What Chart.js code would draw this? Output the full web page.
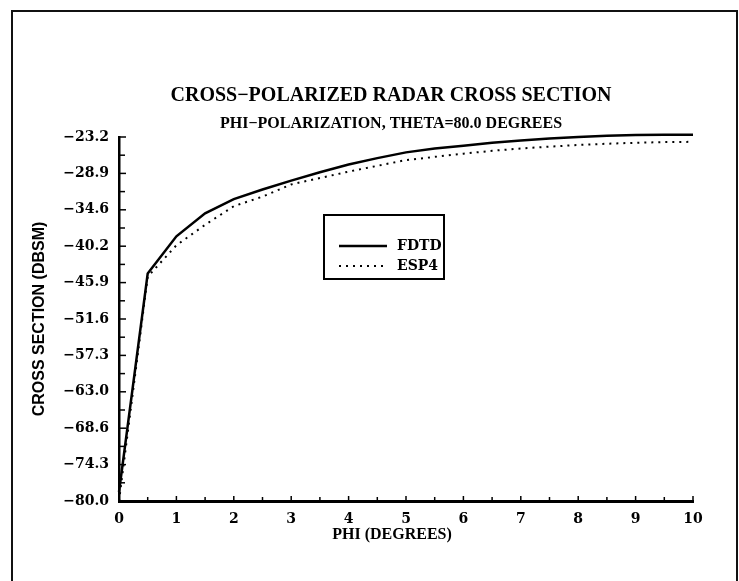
<!DOCTYPE html>
<html>
<head>
<meta charset="utf-8">
<script src="https://cdn.jsdelivr.net/npm/chart.js@4/dist/chart.umd.min.js"></script>
<style>
html, body { margin: 0; padding: 0; background: #fff; overflow: hidden; }
#frame { position: absolute; left: 11px; top: 10px; width: 727px; height: 640px; border: 2px solid #111; box-sizing: border-box; }
canvas { position: absolute; left: 0; top: 0; }
</style>
</head>
<body>
<div id="frame"></div>
<canvas id="rcs" width="739" height="581"></canvas>
<script>
// phi angle in degrees, one sample every half degree
const phi = [0, 0.5, 1, 1.5, 2, 2.5, 3, 3.5, 4, 4.5, 5, 5.5, 6, 6.5, 7, 7.5, 8, 8.5, 9, 9.5, 10];
// cross section in dBsm
const fdtd = [-78.6, -44.5, -38.7, -35.1, -32.9, -31.4, -30.0, -28.7, -27.5, -26.5, -25.6, -25.0, -24.55, -24.1, -23.75, -23.45, -23.2, -23.0, -22.9, -22.85, -22.85];
const esp4 = [-80.0, -45.0, -40.1, -36.9, -34.0, -32.5, -30.6, -29.6, -28.6, -27.7, -26.8, -26.3, -25.8, -25.35, -25.0, -24.7, -24.45, -24.25, -24.1, -24.0, -23.95];

const seriesNames = ['FDTD', 'ESP4'];
const titleText = 'CROSS\u2212POLARIZED RADAR CROSS SECTION';
const subtitleText = 'PHI\u2212POLARIZATION, THETA=80.0 DEGREES';
const xAxisTitle = 'PHI (DEGREES)';
const yAxisTitle = 'CROSS SECTION (DBSM)';

const yTickValues = [-80, -74.32, -68.64, -62.96, -57.28, -51.6, -45.92, -40.24, -34.56, -28.88, -23.2];
const yTickLabels = ['\u221280.0', '\u221274.3', '\u221268.6', '\u221263.0', '\u221257.3', '\u221251.6', '\u221245.9', '\u221240.2', '\u221234.6', '\u221228.9', '\u221223.2'];
const xTickValues = [0, 1, 2, 3, 4, 5, 6, 7, 8, 9, 10];

const tickFont = { family: 'DejaVu Serif', size: 14, weight: 'bold' };

// pair up phi with each series
const toPoints = (vals) => phi.map((p, i) => ({ x: p, y: vals[i] }));

// ticks pointing into the plot, major and half-step minor
const innerTicks = {
  id: 'innerTicks',
  afterDraw(chart) {
    const { ctx, chartArea, scales } = chart;
    ctx.save();
    ctx.strokeStyle = '#000';
    ctx.lineWidth = 1.5;
    const hline = (py, len) => { ctx.beginPath(); ctx.moveTo(chartArea.left, py); ctx.lineTo(chartArea.left + len, py); ctx.stroke(); };
    const vline = (px, len) => { ctx.beginPath(); ctx.moveTo(px, chartArea.bottom); ctx.lineTo(px, chartArea.bottom - len); ctx.stroke(); };
    yTickValues.forEach((v, i) => {
      hline(scales.y.getPixelForValue(v), 7);
      if (i < yTickValues.length - 1) hline(scales.y.getPixelForValue((v + yTickValues[i + 1]) / 2), 6);
    });
    xTickValues.forEach((v, i) => {
      vline(scales.x.getPixelForValue(v), 5);
      if (i < xTickValues.length - 1) vline(scales.x.getPixelForValue((v + xTickValues[i + 1]) / 2), 4);
    });
    ctx.restore();
  }
};

// titles, x axis title and boxed legend
const decorations = {
  id: 'decorations',
  afterDraw(chart) {
    const { ctx } = chart;
    ctx.save();
    ctx.fillStyle = '#000';
    ctx.textAlign = 'center';
    ctx.textBaseline = 'middle';
    ctx.font = 'bold 20px "Liberation Serif"';
    ctx.fillText(titleText, 391, 96);
    ctx.font = 'bold 16px "Liberation Serif"';
    ctx.fillText(subtitleText, 391, 124);
    ctx.font = 'bold 16px "Liberation Serif"';
    ctx.fillText(xAxisTitle, 392, 535);

    // legend box
    ctx.strokeStyle = '#000';
    ctx.lineWidth = 2;
    ctx.strokeRect(324, 215, 120, 64);
    chart.data.datasets.forEach((ds, i) => {
      const ly = 246 + i * 20;
      ctx.lineWidth = ds.borderWidth;
      ctx.setLineDash(ds.borderDash || []);
      ctx.beginPath();
      ctx.moveTo(339, ly);
      ctx.lineTo(387, ly);
      ctx.stroke();
      ctx.setLineDash([]);
      ctx.textAlign = 'left';
      ctx.font = 'bold 14px "DejaVu Serif"';
      ctx.fillText(ds.label, 397, ly);
    });
    ctx.restore();
  }
};

const ctx = document.getElementById('rcs');
const rcsChart = new Chart(ctx, {
  type: 'line',
  data: {
    datasets: [
      { label: seriesNames[0], data: toPoints(fdtd), borderColor: '#000', borderWidth: 2.5, pointRadius: 0, tension: 0, clip: false },
      { label: seriesNames[1], data: toPoints(esp4), borderColor: '#000', borderWidth: 2, borderDash: [2, 5], pointRadius: 0, tension: 0, clip: false }
    ]
  },
  options: {
    responsive: false,
    devicePixelRatio: 1,
    animation: false,
    layout: { padding: { left: 0, right: 46, top: 137, bottom: 0 } },
    plugins: { legend: { display: false }, tooltip: { enabled: false }, title: { display: false } },
    scales: {
      x: {
        type: 'linear',
        min: 0,
        max: 10,
        afterBuildTicks: (s) => { s.ticks = xTickValues.map(v => ({ value: v })); },
        afterFit: (s) => { s.height = 80; },
        grid: { display: false, drawTicks: false },
        border: { display: true, width: 3, color: '#000' },
        ticks: { color: '#000', font: tickFont, padding: 10, maxRotation: 0, callback: (v) => String(v) }
      },
      y: {
        type: 'linear',
        min: -80,
        max: -23.2,
        afterBuildTicks: (s) => { s.ticks = yTickValues.map(v => ({ value: v })); },
        afterFit: (s) => { s.width = 119; },
        grid: { display: false, drawTicks: false },
        border: { display: true, width: 2.5, color: '#000' },
        ticks: { color: '#000', font: tickFont, padding: 10, callback: (v, i) => yTickLabels[i] },
        title: { display: true, text: yAxisTitle, color: '#000', font: { family: 'Liberation Sans', size: 16, weight: 'bold' }, padding: { top: 30, bottom: 0 } }
      }
    }
  },
  plugins: [innerTicks, decorations]
});
</script>
</body>
</html>
